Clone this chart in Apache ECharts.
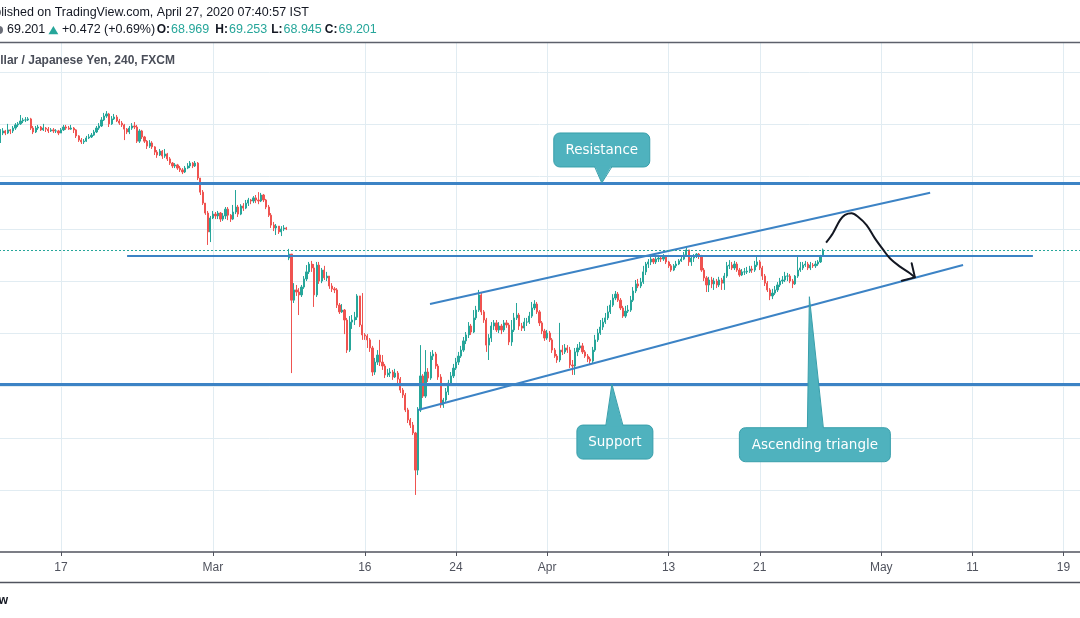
<!DOCTYPE html>
<html>
<head>
<meta charset="utf-8">
<script src="https://cdn.jsdelivr.net/npm/echarts@6/dist/echarts.min.js"></script>
<style>html,body{margin:0;padding:0;background:#ffffff}#c{width:1080px;height:618px}</style>
</head>
<body>
<div id="c"></div>
<script>
// ---- AUD/JPY 4h candles, Feb 11 -> Apr 27 2020 ----
const closes = [
73.67,73.75,73.67,73.79,73.75,73.86,73.98,74.02,74.13,74.17,
74.17,74.21,73.86,73.71,73.86,73.90,73.79,73.86,73.82,73.75,
73.79,73.75,73.75,73.67,73.79,73.90,73.86,73.82,73.86,73.79,
73.56,73.40,73.33,73.36,73.48,73.52,73.59,73.71,73.86,73.94,
74.17,74.32,74.40,74.02,74.21,74.28,74.13,74.05,73.98,73.82,
73.71,73.86,73.94,73.90,73.36,73.75,73.52,73.36,73.17,73.29,
73.14,72.94,72.83,72.98,72.79,72.87,72.68,72.52,72.41,72.45,
72.33,72.26,72.18,72.33,72.41,72.52,72.41,72.52,71.95,71.41,
70.99,70.61,69.89,70.42,70.57,70.50,70.61,70.38,70.50,70.76,
70.53,70.38,70.65,70.84,70.57,70.88,70.80,70.99,71.11,71.07,
71.19,71.11,71.07,71.30,71.11,70.84,70.53,70.15,70.04,70.11,
69.89,70.00,70.04,70.00,
69.04,67.28,67.67,67.59,67.48,67.78,
68.09,68.36,68.66,68.51,67.48,68.62,68.01,68.43,68.13,68.20,
67.82,67.71,67.67,67.09,66.83,66.90,66.52,65.37,66.44,66.52,66.63,
67.44,66.33,65.95,65.91,65.76,65.45,64.53,64.91,65.18,64.91,64.76,64.42,64.49,
64.53,64.34,64.49,64.26,63.84,63.65,63.08,62.70,62.50,62.20,
60.78,63.08,64.38,63.61,64.53,64.30,65.14,65.22,64.76,64.34,
63.27,63.46,63.77,64.11,64.38,64.68,64.91,65.14,65.37,65.72,
65.95,66.29,66.06,66.60,66.90,67.48,66.83,66.52,65.56,65.83,
66.29,66.41,66.14,66.29,66.14,66.41,66.33,65.68,66.14,66.60,
66.71,66.29,66.21,66.44,66.44,66.67,66.98,67.13,66.83,66.41,
66.10,65.83,66.02,65.76,65.37,65.14,64.99,65.37,65.30,65.45,
65.37,64.80,64.76,65.30,65.45,65.53,65.30,65.14,65.03,64.95,
65.37,65.76,66.02,66.25,66.44,66.60,66.83,67.09,67.36,67.51,
67.28,66.98,66.67,66.86,66.90,67.28,67.63,67.90,67.82,67.97,
68.36,68.66,68.74,68.85,68.74,68.85,68.89,68.85,68.93,68.74,
68.59,68.43,68.59,68.66,68.78,68.85,69.01,69.20,68.74,68.89,
68.97,69.04,68.97,68.43,68.13,67.86,68.05,67.90,68.01,67.86,
68.05,67.93,68.20,68.59,68.62,68.51,68.66,68.43,68.24,68.36,68.36,
68.39,68.47,68.43,68.62,68.74,68.51,68.20,67.93,67.67,67.44,
67.55,67.67,67.86,68.01,68.05,68.20,68.20,68.01,67.90,68.20,
68.43,68.51,68.62,68.66,68.51,68.62,68.59,68.66,68.74,68.97,69.201
];
const highs = [
73.82,73.86,73.79,74.02,73.82,73.94,74.05,74.09,74.36,74.25,
74.28,74.28,74.25,73.94,73.94,73.98,73.94,74.02,73.90,73.90,
73.86,73.86,73.82,73.79,73.86,73.98,73.98,73.94,73.98,73.90,
73.82,73.59,73.48,73.44,73.56,73.63,73.67,73.79,73.94,74.05,
74.28,74.44,74.51,74.44,74.32,74.40,74.36,74.21,74.13,74.02,
73.86,73.94,74.05,74.09,73.98,73.82,73.79,73.56,73.40,73.40,
73.36,73.17,73.02,73.06,73.02,73.06,72.91,72.75,72.56,72.52,
72.49,72.41,72.33,72.41,72.52,72.60,72.56,72.60,72.56,71.95,
71.49,70.92,70.69,70.50,70.69,70.65,70.69,70.65,70.61,70.84,
70.84,70.57,70.92,71.49,70.92,70.95,70.99,71.11,71.19,71.15,
71.26,71.30,71.41,71.38,71.34,71.15,70.92,70.61,70.27,70.19,
70.11,70.11,70.15,70.08,
69.24,68.93,67.93,67.86,67.74,67.86,
68.20,68.62,68.74,68.78,68.66,68.74,68.74,68.51,68.59,68.36,
68.20,67.93,67.78,67.74,67.17,67.13,66.94,66.60,66.67,66.71,66.83,
67.51,67.40,67.55,66.02,65.98,65.83,65.53,65.07,65.37,65.76,65.18,64.84,64.65,
64.68,64.61,64.65,64.57,64.34,63.92,63.73,63.16,62.77,62.62,
62.24,63.19,65.56,64.45,65.37,64.68,65.30,65.37,65.30,64.84,
64.45,63.54,63.92,64.23,64.53,64.84,65.07,65.30,65.53,65.87,
66.06,66.44,66.37,66.90,67.06,67.67,67.55,66.90,66.60,65.98,
66.44,66.52,66.52,66.44,66.37,66.52,66.52,66.41,66.52,66.79,
67.17,66.79,66.41,66.60,66.60,66.83,67.21,67.28,67.21,66.90,
66.48,66.18,66.14,66.10,65.83,65.45,65.22,66.41,65.56,65.60,
65.56,65.49,64.99,65.45,65.60,65.68,65.64,65.37,65.22,65.11,
65.49,65.95,66.18,66.52,66.60,66.79,67.06,67.28,67.51,67.63,
67.59,67.36,67.06,67.06,67.09,67.44,67.78,68.05,68.09,68.13,
68.59,68.74,68.85,68.93,68.89,68.93,69.01,68.97,69.04,68.97,
68.78,68.66,68.66,68.78,68.85,68.97,69.12,69.31,69.20,68.97,
69.04,69.08,69.08,69.01,68.51,68.20,68.17,68.17,68.13,68.09,
68.17,68.13,68.32,68.74,68.81,68.74,68.78,68.74,68.51,68.47,68.51,
68.55,68.59,68.59,68.78,68.97,68.81,68.59,68.28,68.01,67.74,
67.71,67.82,67.97,68.13,68.20,68.36,68.32,68.28,68.09,68.24,
68.97,68.74,68.74,68.78,68.74,68.74,68.70,68.78,68.81,69.01,69.253
];
const lows = [
73.29,73.59,73.59,73.63,73.63,73.67,73.79,73.90,73.98,74.05,
74.09,74.13,73.79,73.63,73.67,73.79,73.75,73.75,73.71,73.67,
73.71,73.67,73.67,73.59,73.67,73.75,73.79,73.79,73.79,73.67,
73.48,73.33,73.25,73.25,73.33,73.44,73.48,73.56,73.67,73.79,
73.90,74.13,74.25,73.90,73.98,74.17,74.09,73.98,73.90,73.40,
73.63,73.63,73.79,73.82,73.29,73.29,73.44,73.29,73.06,73.10,
73.06,72.83,72.72,72.79,72.68,72.72,72.60,72.45,72.33,72.33,
72.26,72.18,72.10,72.14,72.29,72.33,72.33,72.37,71.87,71.30,
70.92,70.54,69.39,69.50,70.38,70.38,70.38,70.27,70.31,70.38,
70.34,70.27,70.34,70.57,70.46,70.53,70.69,70.76,70.88,70.95,
70.99,70.99,70.95,71.03,71.03,70.76,70.46,70.04,69.92,69.77,
69.81,69.73,69.92,69.96,
68.81,64.49,67.17,67.44,66.71,67.40,
67.71,68.01,68.28,68.36,67.02,67.40,67.90,67.93,68.05,68.01,
67.71,67.59,67.55,66.98,66.75,66.79,65.98,65.26,65.30,66.18,66.33,
66.52,66.25,65.76,65.76,65.45,65.30,64.38,64.42,64.80,64.76,64.61,64.30,64.34,
64.34,64.23,64.30,64.11,63.73,63.54,63.00,62.58,62.39,62.12,
59.83,60.59,63.00,63.54,63.54,64.15,64.23,64.99,64.65,64.23,
63.16,63.16,63.39,63.65,64.00,64.30,64.61,64.80,65.07,65.30,
65.60,65.83,65.95,66.02,66.52,66.83,66.71,66.41,65.30,64.99,
65.68,66.14,66.06,66.02,65.98,66.06,66.22,65.56,65.53,66.06,
66.52,66.14,66.10,66.10,66.29,66.37,66.60,66.90,66.75,66.29,
65.98,65.72,65.76,65.68,65.26,65.07,64.88,64.91,65.18,65.22,
65.26,64.68,64.42,64.42,65.14,65.37,65.22,65.07,64.91,64.84,
64.88,65.30,65.68,65.95,66.14,66.37,66.52,66.75,67.02,67.28,
67.21,66.90,66.60,66.60,66.79,66.83,67.21,67.55,67.74,67.74,
67.90,68.24,68.51,68.62,68.66,68.66,68.74,68.74,68.78,68.66,
68.51,68.36,68.39,68.51,68.62,68.74,68.81,68.93,68.59,68.59,
68.74,68.89,68.85,68.36,68.01,67.59,67.59,67.74,67.67,67.74,
67.78,67.67,67.67,68.13,68.47,68.43,68.43,68.36,68.17,68.20,68.24,
68.28,68.32,68.32,68.36,68.55,68.43,68.05,67.82,67.59,67.28,
67.32,67.48,67.59,67.78,67.90,67.97,68.01,67.93,67.74,67.86,
68.13,68.36,68.43,68.55,68.43,68.43,68.51,68.51,68.59,68.70,68.945
];
const firstOpen = 73.33;
const gapOpens = { 114: 68.89, 325: 68.969 };   // Monday 9 Mar gap, last bar's quoted open

// ---- time axis ----
const candlesPerDay = 6;
const axisStart = '2020-02-11';
const axisCandles = 427;
const tickLabels = ['17', 'Mar', '16', '24', 'Apr', '13', '21', 'May', '11', '19'];
const tickTradingDays = [4, 14, 24, 30, 36, 44, 50, 58, 64, 70]; // trading days after Feb 11

// ---- price levels and drawings (candle index, price) ----
const gridPrices = [60, 62, 64, 66, 68, 70, 72, 74, 76];
const resistanceLevel = 71.76;
const supportLevel = 64.07;
const lastPrice = 69.201;
const neckline = [[50.1, 68.97], [407.9, 68.97]];
const upperChannel = [[169.75, 67.13], [367.3, 71.39]];
const lowerChannel = [[165.0, 63.08], [380.3, 68.62]];
const projection = [[326.2, 69.48], [328.9, 69.84], [331.7, 70.34], [333.7, 70.54], [336.3, 70.60], [338.8, 70.47],
  [342.2, 70.15], [345.5, 69.64], [348.8, 69.20], [351.4, 68.88], [355.4, 68.56], [359.3, 68.31], [361.3, 68.15]];
const arrowHead = [[360.0, 68.69], [361.3, 68.15], [356.1, 68.02]];
const calloutTexts = ['Resistance', 'Support', 'Ascending triangle'];
const calloutTips = [[237.6, 71.76], [241.6, 64.07], [319.6, 67.41]];

// ---------------------------------------------------------------
const cats = [];
(function () {
  let t = Date.parse(axisStart + 'T00:00:00Z');
  while (cats.length < axisCandles) {
    const d = new Date(t);
    const wd = d.getUTCDay();
    if (wd !== 0 && wd !== 6) {
      for (let h = 0; h < candlesPerDay && cats.length < axisCandles; h++) {
        cats.push(d.toISOString().slice(0, 10) + ' ' + String(h * 4).padStart(2, '0') + ':00');
      }
    }
    t += 86400000;
  }
})();
const labelAt = {};
tickTradingDays.forEach((d, k) => { labelAt[d * candlesPerDay] = tickLabels[k]; });
const isTick = (i) => labelAt[i] !== undefined;

const candles = closes.map((c, i) => {
  const o = i === 0 ? firstOpen : (gapOpens[i] !== undefined ? gapOpens[i] : closes[i - 1]);
  return [o, c, Math.min(lows[i], o, c), Math.max(highs[i], o, c)];
});

const BLUE = '#3c83c5';
const chart = echarts.init(document.getElementById('c'), null, { renderer: 'canvas' });
const option = {
  animation: false,
  backgroundColor: '#ffffff',
  grid: { left: -1, right: 0, top: 43, bottom: 66, containLabel: false, outerBoundsMode: 'none' },
  xAxis: [
    {
      type: 'category', data: cats, boundaryGap: true,
      axisLine: { show: true, lineStyle: { color: '#50535e', width: 1.5 } },
      axisTick: { show: true, alignWithLabel: true, length: 4, interval: isTick, lineStyle: { color: '#50535e' } },
      axisLabel: { show: true, interval: isTick, formatter: (v, i) => labelAt[i] || '', color: '#50535e',
        fontSize: 12, fontFamily: 'Liberation Sans', margin: 10 },
      splitLine: { show: true, interval: isTick, alignWithLabel: true, lineStyle: { color: '#e1ecf2', width: 1 } }
    },
    { type: 'value', min: -0.5, max: axisCandles - 0.5, show: false }
  ],
  yAxis: { type: 'value', min: 57.648, max: 77.113, show: false, scale: true },
  series: [
    {
      type: 'candlestick', name: 'AUDJPY', data: candles, xAxisIndex: 0, yAxisIndex: 0, z: 3,
      barWidth: 1.7, silent: true,
      itemStyle: { color: '#26a69a', color0: '#ef5350', borderColor: '#26a69a', borderColor0: '#ef5350', borderWidth: 1 },
      markLine: {
        silent: true, symbol: ['none', 'none'], label: { show: false }, z: 6, animation: false,
        data: [
          { yAxis: lastPrice, lineStyle: { color: '#26a69a', width: 1, type: [2, 2] } },
          { yAxis: resistanceLevel, lineStyle: { color: BLUE, width: 3, type: 'solid' } },
          { yAxis: supportLevel, lineStyle: { color: BLUE, width: 3, type: 'solid' } }
        ]
      }
    },
    {
      type: 'line', name: 'neckline', data: neckline, xAxisIndex: 1, yAxisIndex: 0, z: 5, silent: true,
      symbol: 'none', lineStyle: { color: BLUE, width: 2 },
      markLine: {
        silent: true, symbol: ['none', 'none'], label: { show: false }, z: 1, animation: false,
        lineStyle: { color: '#e1ecf2', width: 1, type: 'solid' },
        data: gridPrices.map(p => ({ yAxis: p }))
      }
    },
    { type: 'line', name: 'upper', data: upperChannel, xAxisIndex: 1, yAxisIndex: 0, z: 5, silent: true,
      symbol: 'none', lineStyle: { color: BLUE, width: 2 } },
    { type: 'line', name: 'lower', data: lowerChannel, xAxisIndex: 1, yAxisIndex: 0, z: 5, silent: true,
      symbol: 'none', lineStyle: { color: BLUE, width: 2 } },
    { type: 'line', name: 'projection', data: projection, xAxisIndex: 1, yAxisIndex: 0, z: 6, silent: true,
      symbol: 'none', smooth: 0.35, lineStyle: { color: '#131722', width: 2 } },
    { type: 'line', name: 'arrowHead', data: arrowHead, xAxisIndex: 1, yAxisIndex: 0, z: 6, silent: true,
      symbol: 'none', lineStyle: { color: '#131722', width: 2, join: 'round', cap: 'round' } }
  ]
};
chart.setOption(option);

// ---- header, frame and callouts ----
const F = 'Liberation Sans';
const TEAL = '#26a69a';
const TXT = '#131722';
const g = [];
function txt(x, y, s, fill, font, align) {
  g.push({ type: 'text', x: x, y: y, z: 50, silent: true,
    style: { text: s, fill: fill, font: font, align: align || 'left', verticalAlign: 'middle' } });
}
g.push({ type: 'line', silent: true, z: 40, shape: { x1: 0, y1: 42.5, x2: 1080, y2: 42.5 }, style: { stroke: '#5d606b', lineWidth: 1.5 } });
g.push({ type: 'line', silent: true, z: 40, shape: { x1: 0, y1: 582.5, x2: 1080, y2: 582.5 }, style: { stroke: '#50535e', lineWidth: 1.5 } });
txt(309, 12.5, 'Published on TradingView.com, April 27, 2020 07:40:57 IST', TXT, '12.5px ' + F, 'right');
g.push({ type: 'circle', silent: true, z: 50, shape: { cx: -1, cy: 30, r: 4 }, style: { fill: '#6a6d78' } });
txt(7, 30, '69.201', TXT, '12.5px ' + F);
g.push({ type: 'polygon', silent: true, z: 50, shape: { points: [[48.5, 34.3], [58.3, 34.3], [53.4, 26]] }, style: { fill: TEAL } });
txt(62, 30, '+0.472 (+0.69%)', TXT, '12.5px ' + F);
const ohlcLabels = [['O:', '68.969', 171], ['H:', '69.253', 229], ['L:', '68.945', 283.5], ['C:', '69.201', 338.5]];
ohlcLabels.forEach(([lab, val, x]) => {
  txt(x - 1, 30, lab, TXT, 'bold 12px ' + F, 'right');
  txt(x, 30, val, TEAL, '12.5px ' + F);
});
txt(175, 61, 'Australian Dollar / Japanese Yen, 240, FXCM', '#4a4e59', 'bold 12px ' + F, 'right');
txt(8, 601, 'TradingView', TXT, 'bold 12px ' + F, 'right');

// callout boxes: offsets from the pointer tip (pixels)
const calloutBoxes = [
  { box: [-48, -50, 96, 34], base: [-7, 10] },
  { box: [-35, 41, 76, 34], base: [-6, 11] },
  { box: [-70, 131, 151, 34], base: [-2, 14] }
];
const CFILL = '#4fb2be', CSTROKE = '#389fab';
calloutTexts.forEach((label, k) => {
  const tip = chart.convertToPixel({ seriesIndex: 2 }, calloutTips[k]);
  const tx = tip[0], ty = tip[1];
  const b = calloutBoxes[k];
  const bx = tx + b.box[0], by = ty + b.box[1], bw = b.box[2], bh = b.box[3];
  const below = b.box[1] < 0; // box above the tip -> pointer from its bottom edge
  const edgeY = below ? by + bh : by;
  const inner = below ? edgeY - 1.5 : edgeY + 1.5;
  g.push({ type: 'rect', silent: true, z: 60, shape: { x: bx, y: by, width: bw, height: bh, r: 6 },
    style: { fill: CFILL, stroke: CSTROKE, lineWidth: 1 } });
  g.push({ type: 'polygon', silent: true, z: 61, shape: { points: [[tx + b.base[0], inner], [tx + b.base[1], inner], [tx, ty]] },
    style: { fill: CFILL } });
  g.push({ type: 'polyline', silent: true, z: 62, shape: { points: [[tx + b.base[0], edgeY], [tx, ty], [tx + b.base[1], edgeY]] },
    style: { stroke: CSTROKE, lineWidth: 1, fill: null } });
  g.push({ type: 'text', silent: true, z: 63, x: bx + bw / 2, y: by + bh / 2 + 0.5,
    style: { text: label, fill: '#ffffff', font: '13.5px "DejaVu Sans"', align: 'center', verticalAlign: 'middle' } });
});
chart.setOption({ graphic: g });
</script>
</body>
</html>
